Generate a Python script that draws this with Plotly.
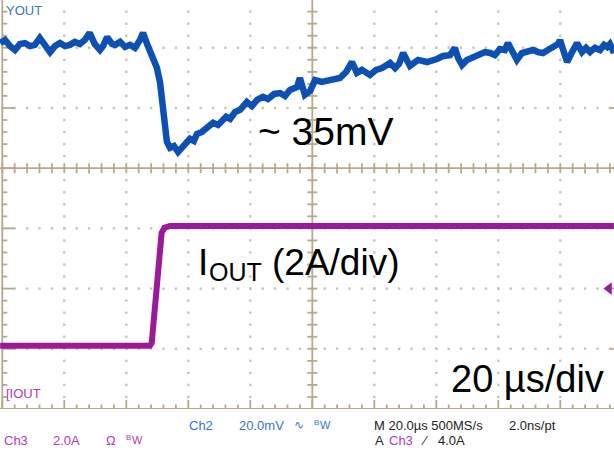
import plotly.graph_objects as go

# ---------------- data ----------------
# VOUT trace: time in µs, deviation from initial level in mV
t_vout = [-100.7, -99.1, -97.5, -95.9, -94.3, -92.7, -91.1, -89.5, -87.9, -86.3,
          -84.6, -83.0, -81.4, -79.8, -78.2, -76.6, -75.0, -73.4, -71.8, -70.2,
          -68.5, -67.5, -66.2, -64.6, -63.6, -62.0, -60.4, -58.8, -57.2, -55.6,
          -54.6, -53.3, -52.4, -51.1, -50.1, -49.1, -48.5, -47.8, -47.5, -46.9,
          -45.9, -44.6, -43.3, -42.0, -40.7, -39.5, -38.2, -37.2, -35.6, -34.0,
          -32.0, -30.4, -29.1, -27.8, -26.5, -24.9, -23.3, -21.1, -19.5, -17.8,
          -15.9, -14.3, -12.3, -10.4, -8.8, -7.2, -4.9, -4.0, -2.4, -0.7,
          0.9, 3.1, 5.7, 8.9, 10.9, 12.8, 14.4, 16.0, 18.6, 20.6,
          22.5, 25.1, 26.7, 28.0, 29.3, 31.5, 34.1, 37.0, 40.2, 42.2,
          44.4, 46.0, 47.0, 48.3, 49.9, 51.8, 53.4, 55.7, 57.3, 58.9,
          60.5, 62.1, 63.1, 64.4, 66.0, 67.6, 69.2, 71.2, 72.8, 74.4,
          76.0, 77.7, 79.3, 79.9, 80.9, 82.2, 83.8, 85.4, 87.0, 88.3,
          89.6, 91.2, 92.8, 94.1, 95.1, 96.0, 97.3]
v_out = [0.3, 1.3, -0.7, -2.0, 0.0, 0.3, -0.7, -0.3, 2.0, -0.7,
         -2.7, -0.7, 0.3, -0.7, -0.3, 0.7, 0.0, 1.3, 3.7, 0.0,
         -2.0, -0.7, 2.3, 0.0, -0.3, 0.7, -1.0, -0.3, -1.3, 1.3,
         3.7, 0.0, -2.0, -4.6, -8.0, -12.9, -17.6, -23.6, -28.6, -32.5,
         -34.5, -33.9, -35.9, -34.2, -33.2, -31.5, -32.2, -29.9, -29.2, -27.9,
         -26.2, -26.9, -25.2, -24.2, -24.9, -22.6, -21.9, -19.3, -20.6, -18.6,
         -17.6, -18.3, -16.6, -16.3, -17.3, -15.3, -14.3, -11.3, -16.9, -15.6,
         -12.0, -12.6, -12.0, -11.3, -9.3, -6.0, -9.6, -8.6, -10.3, -8.6,
         -8.0, -6.3, -8.0, -6.6, -3.0, -7.3, -5.3, -6.0, -5.0, -4.0,
         -3.7, -1.3, -4.6, -7.0, -5.3, -4.3, -3.7, -2.7, -3.0, -3.7,
         -1.7, -2.0, 0.3, -2.7, -5.3, -3.0, -2.7, -2.0, -2.7, -3.0,
         -2.0, -0.7, 0.0, 1.3, -2.0, -6.0, -2.7, 0.3, -2.7, -1.3,
         -2.7, -1.3, -2.0, -0.3, -1.0, 0.0, -3.0]
assert len(t_vout) == len(v_out)

# IOUT trace: time in µs, current in A
t_iout = [-100.7, -80.0, -60.0, -52.4, -51.8, -51.3, -50.7, -50.2, -49.7, -49.1,
          -48.6, -47.7, -45.9, -20.0, 0.0, 20.0, 50.0, 97.3]
i_out = [2.1, 2.1, 2.1, 2.1, 2.19, 2.86, 3.63, 4.29, 4.96, 5.52,
         5.85, 6.02, 6.08, 6.08, 6.08, 6.08, 6.08, 6.08]

# scope settings
T_DIV = 20.0        # µs/div
V_DIV = 20.0        # mV/div (Ch2)
I_DIV = 2.0         # A/div  (Ch3)
V_ZERO_DIV = 2.063  # VOUT reference position (div above centre)
I_ZERO_DIV = -4.0   # IOUT ground position (div)
TRIG_LEVEL = 4.0    # A

# ---------------- geometry ----------------
W, H = 614, 455
PLOT_H = 409
PX_PER_DIV_X = 62.0
PX_PER_DIV_Y = 60.25
CENTER_PX_X = 312.3
CENTER_PX_Y = 168.3

x_lo = -CENTER_PX_X / PX_PER_DIV_X * T_DIV
x_hi = (W - CENTER_PX_X) / PX_PER_DIV_X * T_DIV
y_top_div = CENTER_PX_Y / PX_PER_DIV_Y
y_bot_div = -4.0

ux = T_DIV / PX_PER_DIV_X      # µs per pixel
uy = 1.0 / PX_PER_DIV_Y        # div per pixel

AXIS_COL = "#b5a98a"
DOT_COL = "#c9c4b1"
BLUE = "#0c50b4"
MAG = "#9a1a9a"
BLUE_TXT = "#3a74c8"
MAG_TXT = "#b03ab6"

fig = go.Figure()

# grid dots
gx, gy = [], []
for k in range(-4, 5):
    if k == 0:
        continue
    xv = k * T_DIV
    j = -20
    while j * 0.2 <= y_top_div + 1e-9:
        gx.append(xv); gy.append(j * 0.2); j += 1
for d in [2, 1, -1, -2, -3]:
    for j in range(-25, 26):
        gx.append(j * T_DIV / 5); gy.append(d)
fig.add_trace(go.Scatter(x=gx, y=gy, mode="markers", yaxis="y",
                         marker=dict(symbol="square", size=2.4, color=DOT_COL),
                         hoverinfo="skip", showlegend=False))

# axes and borders with ticks
lx, ly = [], []
def seg(x0, y0, x1, y1):
    lx.extend([x0, x1, None]); ly.extend([y0, y1, None])

# centre vertical axis
seg(0, y_bot_div, 0, y_top_div)
j = -20
while j * 0.2 <= y_top_div:
    seg(-5 * ux, j * 0.2, 5 * ux, j * 0.2); j += 1
# centre horizontal axis
seg(x_lo, 0, x_hi + 10, 0)
for j in range(-25, 26):
    seg(j * T_DIV / 5, -5 * uy, j * T_DIV / 5, 5 * uy)
# left border
seg(-5 * T_DIV, y_bot_div, -5 * T_DIV, y_top_div)
j = -20
while j * 0.2 <= y_top_div:
    L = 12 if j % 5 == 0 else 5
    seg(-5 * T_DIV, j * 0.2, -5 * T_DIV + L * ux, j * 0.2); j += 1
# right border
seg(5 * T_DIV, y_bot_div, 5 * T_DIV, y_top_div)
j = -20
while j * 0.2 <= y_top_div:
    L = 12 if j % 5 == 0 else 5
    seg(5 * T_DIV, j * 0.2, 5 * T_DIV - L * ux, j * 0.2); j += 1
# bottom border
seg(x_lo, y_bot_div, x_hi + 10, y_bot_div)
for j in range(-25, 26):
    L = 9 if j % 5 == 0 else 4.5
    seg(j * T_DIV / 5, y_bot_div, j * T_DIV / 5, y_bot_div + L * uy)

fig.add_trace(go.Scatter(x=lx, y=ly, mode="lines", yaxis="y",
                         line=dict(color=AXIS_COL, width=1.8),
                         hoverinfo="skip", showlegend=False))

# signals
fig.add_trace(go.Scatter(x=t_iout, y=i_out, mode="lines", yaxis="y3",
                         line=dict(color=MAG, width=6),
                         hoverinfo="skip", showlegend=False))
fig.add_trace(go.Scatter(x=t_vout, y=v_out, mode="lines", yaxis="y2",
                         line=dict(color=BLUE, width=6.5),
                         hoverinfo="skip", showlegend=False))

# trigger level marker at the right edge
fig.add_trace(go.Scatter(x=[x_hi - 5 * ux], y=[TRIG_LEVEL], mode="markers", yaxis="y3",
                         marker=dict(symbol="triangle-left", size=11, color=MAG),
                         hoverinfo="skip", showlegend=False))

v_range = [(y_bot_div - V_ZERO_DIV) * V_DIV, (y_top_div - V_ZERO_DIV) * V_DIV]
i_range = [(y_bot_div - I_ZERO_DIV) * I_DIV, (y_top_div - I_ZERO_DIV) * I_DIV]

hidden = dict(visible=False, showgrid=False, zeroline=False, fixedrange=True)
fig.update_layout(
    width=W, height=H,
    margin=dict(l=0, r=0, t=0, b=H - PLOT_H, pad=0),
    paper_bgcolor="white", plot_bgcolor="white",
    showlegend=False,
    xaxis=dict(range=[x_lo, x_hi], **hidden),
    yaxis=dict(range=[y_bot_div, y_top_div], **hidden),
    yaxis2=dict(range=v_range, overlaying="y", **hidden),
    yaxis3=dict(range=i_range, overlaying="y", **hidden),
)

FONT = "Liberation Sans, Arial, sans-serif"

def px_ann(px, py, text, size, color, xanchor="left", yanchor="middle"):
    fig.add_annotation(x=px / W, y=(PLOT_H - py) / PLOT_H, xref="paper", yref="paper",
                       text=text, showarrow=False, xanchor=xanchor, yanchor=yanchor,
                       font=dict(family=FONT, size=size, color=color))

# big annotations
px_ann(256, 131, "~ 35mV", 39, "black")
px_ann(196, 262, "I", 37, "black")
px_ann(207, 272, "OUT", 25, "black")
px_ann(270, 262, "(2A/div)", 37, "black")
px_ann(449, 379, "20 µs/div", 38, "black")

# channel labels
px_ann(4, 10, "YOUT", 13, BLUE_TXT)
px_ann(4, 393, "[IOUT", 13, MAG_TXT)

# status rows
r1, r2 = 425, 440
px_ann(187, r1, "Ch2", 13, BLUE_TXT)
px_ann(237, r1, "20.0mV", 13, BLUE_TXT)
px_ann(292, r1, "∿", 12, BLUE_TXT)
px_ann(312, r1 - 3, "B", 8, BLUE_TXT)
px_ann(318, r1, "W", 11, BLUE_TXT)
px_ann(372, r1, "M 20.0µs 500MS/s", 13, "#222222")
px_ann(507, r1, "2.0ns/pt", 13, "#222222")
px_ann(2, r2, "Ch3", 13, MAG_TXT)
px_ann(51, r2, "2.0A", 13, MAG_TXT)
px_ann(104, r2, "Ω", 13, MAG_TXT)
px_ann(124, r2 - 3, "B", 8, MAG_TXT)
px_ann(130, r2, "W", 11, MAG_TXT)
px_ann(373, r2, "A", 13, "#222222")
px_ann(387, r2, "Ch3", 13, MAG_TXT)
px_ann(419, r2, "⁄", 13, "#222222")
px_ann(436, r2, "4.0A", 13, "#222222")

fig.write_html("out.html")
